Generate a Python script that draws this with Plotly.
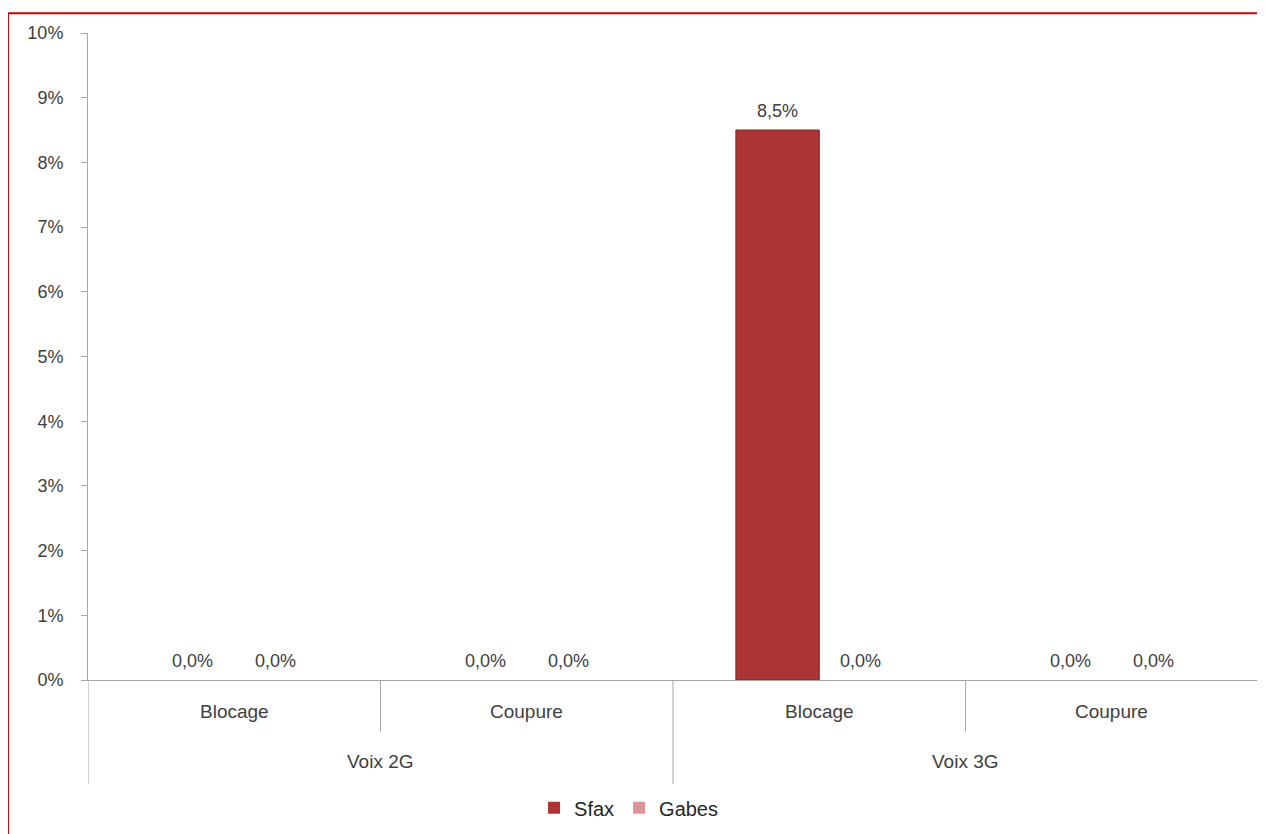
import plotly.graph_objects as go

# Data
groups = ["Voix 2G", "Voix 2G", "Voix 3G", "Voix 3G"]
metrics = ["Blocage", "Coupure", "Blocage", "Coupure"]
group_labels = ["Voix 2G", "Voix 3G"]
sfax = [0.0, 0.0, 0.085, 0.0]
gabes = [0.0, 0.0, 0.0, 0.0]
y_ticks = [0, 0.01, 0.02, 0.03, 0.04, 0.05, 0.06, 0.07, 0.08, 0.09, 0.10]

TXT = "#404040"
FONT = "Liberation Sans, Arial, sans-serif"
AX = "#a6a6a6"
BARGAP = 0.43

xpos = list(range(len(metrics)))

fig = go.Figure()
fig.add_trace(go.Bar(
    name="Sfax", x=xpos, y=sfax,
    marker=dict(color="#ad3434",
                line=dict(color="#7d2222", width=[1 if v > 0 else 0 for v in sfax])),
))
fig.add_trace(go.Bar(
    name="Gabes", x=xpos, y=gabes,
    marker=dict(color="#d99694",
                line=dict(color="#b06e6c", width=[1 if v > 0 else 0 for v in gabes])),
))

annotations = []
# data labels (placed above each bar through the data axes)
half = (1 - BARGAP) / 4
for series, off in [(sfax, -half), (gabes, half)]:
    for i, v in enumerate(series):
        annotations.append(dict(x=i + off, y=v, xref="x", yref="y",
                                text=f"{v * 100:.1f}%".replace(".", ","),
                                showarrow=False, yanchor="middle", yshift=19,
                                font=dict(size=18, color=TXT, family=FONT)))
for i, m in enumerate(metrics):
    annotations.append(dict(x=i, y=0, xref="x", yref="paper", text=m, showarrow=False,
                            yanchor="middle", yshift=-31,
                            font=dict(size=19, color=TXT, family=FONT)))
for j, g in enumerate(group_labels):
    annotations.append(dict(x=2 * j + 0.5, y=0, xref="x", yref="paper", text=g, showarrow=False,
                            yanchor="middle", yshift=-81,
                            font=dict(size=19, color=TXT, family=FONT)))

shapes = []
# inner separators
for xv in [0.5, 2.5]:
    shapes.append(dict(type="line", xref="x", yref="paper", x0=xv, x1=xv, y0=0, y1=-0.0796,
                       line=dict(color=AX, width=1)))
# outer separators
for xv in [-0.5, 1.5, 3.5]:
    shapes.append(dict(type="line", xref="x", yref="paper", x0=xv, x1=xv, y0=0, y1=-0.1608,
                       line=dict(color=AX, width=1)))
# page border
shapes.append(dict(type="rect", xref="paper", yref="paper", x0=-0.0684, x1=1.2, y0=-0.4, y1=1.0306,
                   line=dict(color="#cc0000", width=2), fillcolor="rgba(0,0,0,0)", layer="below"))

fig.update_layout(
    width=1257, height=826,
    margin=dict(l=80, r=7, t=25, b=148),
    paper_bgcolor="white", plot_bgcolor="white",
    separators=", ",
    barmode="group", bargap=BARGAP, bargroupgap=0,
    font=dict(family=FONT, size=18, color=TXT),
    showlegend=True,
    legend=dict(orientation="h", x=0.462, xanchor="center", y=-0.1975, yanchor="middle",
                font=dict(size=20, color="#262626", family=FONT), itemwidth=30,
                tracegroupgap=0, bgcolor="rgba(0,0,0,0)"),
    xaxis=dict(range=[-0.5, 3.5], showticklabels=False, ticks="", showgrid=False,
               zeroline=False, showline=True, linecolor=AX, linewidth=1, mirror=False),
    yaxis=dict(range=[0, 0.10], tickvals=y_ticks, tickformat=".0%", showgrid=False,
               zeroline=False, showline=True, linecolor=AX, linewidth=1,
               ticks="outside", ticklen=6, tickcolor=AX, ticklabelstandoff=14,
               tickfont=dict(size=18, color=TXT, family=FONT)),
    annotations=annotations, shapes=shapes,
)

fig.write_html("out.html")
